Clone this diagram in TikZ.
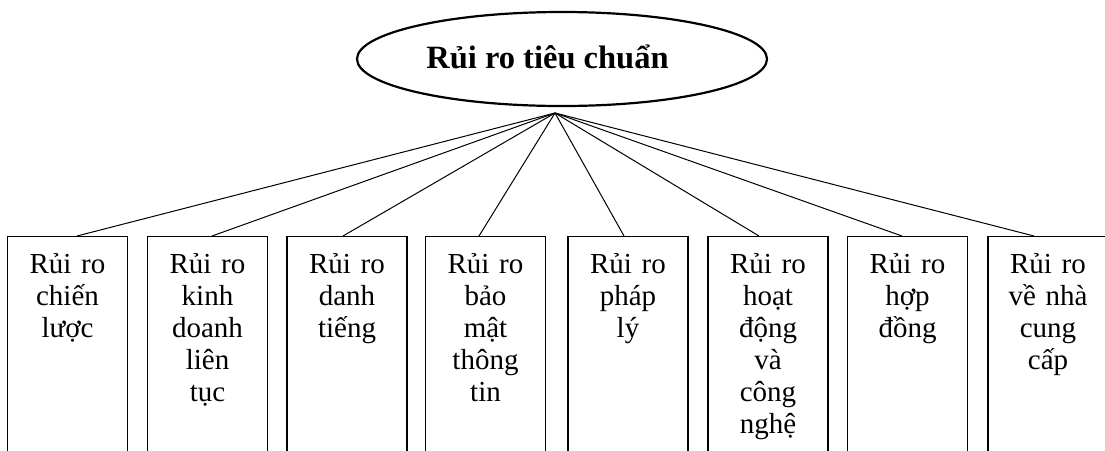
\documentclass[tikz,border=0pt]{standalone}
\usepackage{fontspec}
\setmainfont{Liberation Serif}
\usetikzlibrary{shapes.geometric}
\begin{document}
\begin{tikzpicture}[x=1pt,y=-1pt,
  topell/.style={draw, ellipse, line width=2.2pt, minimum width=410pt, minimum height=94pt, inner sep=0pt},
  titletext/.style={font=\fontsize{32.5}{38}\selectfont\bfseries, anchor=base, inner sep=0pt},
  riskbox/.style={draw, line width=1.4pt, minimum width=120pt, minimum height=240pt, anchor=north, inner sep=0pt},
  boxtext/.style={text width=118pt, align=center, font=\fontsize{29}{32}\selectfont, anchor=base, inner sep=0pt},
  link/.style={line width=1pt}]
\useasboundingbox (0,0) rectangle (1105,450);
\clip (0,0) rectangle (1105,450);
\fill[white] (0,0) rectangle (1105,450);
\node[topell] (top) at (562,59) {};
\node[titletext] (title) at (547.5,68) {Rủi ro tiêu chuẩn};
\coordinate (hub) at (555,113);
\node[riskbox] (b1) at (67.5,236) {};
\node[riskbox] (b2) at (207.5,236) {};
\node[riskbox] (b3) at (347,236) {};
\node[riskbox] (b4) at (485.5,236) {};
\node[riskbox] (b5) at (628,236) {};
\node[riskbox] (b6) at (768,236) {};
\node[riskbox] (b7) at (907.5,236) {};
\node[riskbox] (b8) at (1048,236) {};
\node[boxtext] (t1) at (67.5,273) {Rủi ro\\chiến\\lược};
\node[boxtext] (t2) at (207.5,273) {Rủi ro\\kinh\\doanh\\liên\\tục};
\node[boxtext] (t3) at (347,273) {Rủi ro\\danh\\tiếng};
\node[boxtext] (t4) at (485.5,273) {Rủi ro\\bảo\\mật\\thông\\tin};
\node[boxtext] (t5) at (628,273) {Rủi ro\\pháp\\lý};
\node[boxtext] (t6) at (768,273) {Rủi ro\\hoạt\\động\\và\\công\\nghệ};
\node[boxtext] (t7) at (907.5,273) {Rủi ro\\hợp\\đồng};
\node[boxtext] (t8) at (1048,273) {Rủi ro\\về nhà\\cung\\cấp};
\draw[link] (hub) -- ([xshift=9.5pt]b1.north);
\draw[link] (hub) -- ([xshift=4.5pt]b2.north);
\draw[link] (hub) -- ([xshift=-4pt]b3.north);
\draw[link] (hub) -- ([xshift=-6.5pt]b4.north);
\draw[link] (hub) -- ([xshift=-4pt]b5.north);
\draw[link] (hub) -- ([xshift=-9pt]b6.north);
\draw[link] (hub) -- ([xshift=-5.5pt]b7.north);
\draw[link] (hub) -- ([xshift=-14pt]b8.north);
\end{tikzpicture}
\end{document}
